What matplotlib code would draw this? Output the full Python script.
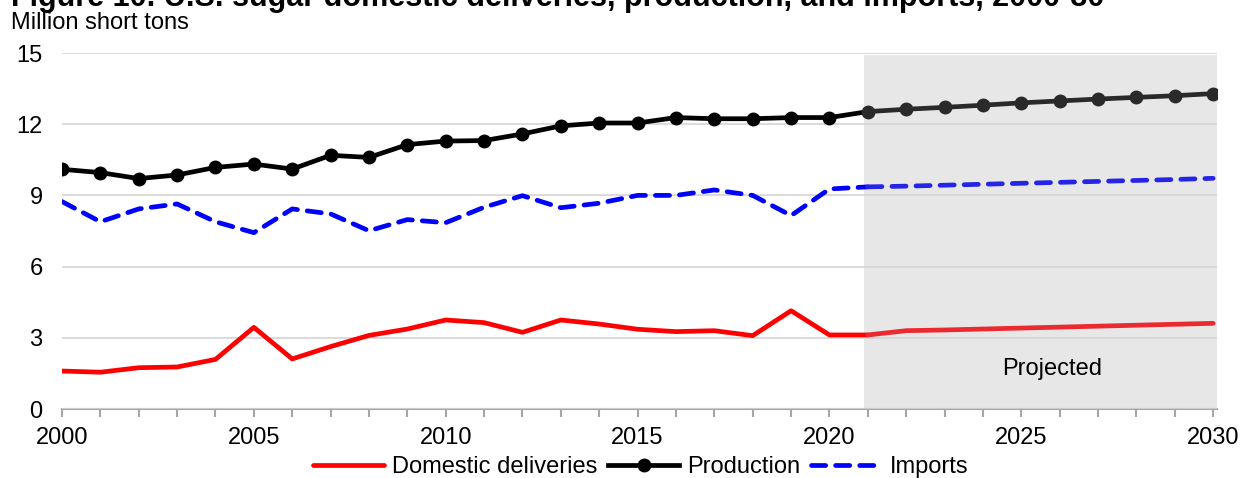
import matplotlib
matplotlib.use("Agg")
import matplotlib.pyplot as plt
from matplotlib.ticker import MultipleLocator

plt.rcParams['font.family'] = ['Liberation Sans', 'DejaVu Sans']

years = list(range(2000, 2031))
production = [10.10, 9.96, 9.71, 9.86, 10.18, 10.32, 10.11, 10.69, 10.60, 11.14,
              11.29, 11.31, 11.59, 11.93, 12.05, 12.05, 12.28, 12.23, 12.23, 12.28,
              12.28, 12.53, 12.63, 12.71, 12.80, 12.90, 12.98, 13.06, 13.13, 13.20, 13.29]
imports = [8.74, 7.89, 8.43, 8.64, 7.89, 7.43, 8.43, 8.22, 7.51, 7.98,
           7.85, 8.50, 8.99, 8.48, 8.67, 9.00, 9.00, 9.23, 9.00, 8.15,
           9.27, 9.36, 9.39, 9.43, 9.47, 9.51, 9.55, 9.59, 9.63, 9.67, 9.72]
deliveries = [1.60, 1.55, 1.74, 1.77, 2.09, 3.44, 2.11, 2.63, 3.10, 3.37,
              3.75, 3.64, 3.23, 3.75, 3.58, 3.36, 3.26, 3.30, 3.09, 4.14,
              3.12, 3.12, 3.30, 3.33, 3.37, 3.41, 3.45, 3.49, 3.53, 3.57, 3.61]
proj_start = 2021

title = "Figure 10. U.S. sugar domestic deliveries, production, and imports, 2000-30"
ylabel = "Million short tons"

fig = plt.figure(figsize=(12.48, 4.78), dpi=100)
ax = fig.add_axes([62/1248, 1-409/478, (1217-62)/1248, (409-53)/478])

k = years.index(proj_start)

ax.axvspan(2020.9, 2030.1, ymin=0, ymax=0.995, color='#e7e7e7', zorder=0, lw=0)

LW = 3.4
MS = 9
# historical
ax.plot(years[:k+1], deliveries[:k+1], color='#ff0000', lw=LW, zorder=3,
        solid_capstyle='round', label='Domestic deliveries')
ax.plot(years[:k], production[:k], color='#000000', lw=LW, marker='o', ms=MS,
        zorder=4, label='Production')
ax.plot(years[:k+1], imports[:k+1], color='#0000ff', lw=LW, dashes=(3.0, 2.1),
        dash_capstyle='round', zorder=3, label='Imports')
# projected
ax.plot(years[k:], deliveries[k:], color='#ea2a2f', lw=LW, zorder=3,
        solid_capstyle='round')
ax.plot(years[k-1:k+1], production[k-1:k+1], color='#000000', lw=LW, zorder=4)
ax.plot(years[k:], production[k:], color='#2a2a2a', lw=LW, marker='o', ms=MS, zorder=4)
ax.plot(years[k:], imports[k:], color='#2525e6', lw=LW, dashes=(3.0, 2.1),
        dash_capstyle='round', zorder=3)

ax.set_xlim(2000, 2030.1)
ax.set_ylim(0, 15)
ax.yaxis.set_major_locator(MultipleLocator(3))
ax.xaxis.set_major_locator(MultipleLocator(5))
ax.xaxis.set_minor_locator(MultipleLocator(1))
ax.grid(axis='y', color='#d4d4d4', lw=1.2, zorder=1)
ax.set_axisbelow(False)
for s in ['top', 'right', 'left']:
    ax.spines[s].set_visible(False)
ax.spines['bottom'].set_color('#a6a6a6')
ax.spines['bottom'].set_linewidth(1.5)
ax.spines['bottom'].set_zorder(2)
ax.tick_params(axis='y', length=0, pad=14, labelsize=17)
ax.tick_params(axis='x', which='both', length=6, width=1.5, color='#a6a6a6',
               labelsize=17, pad=7)

ax.text(2025.8, 1.7, "Projected", ha='center', va='center', fontsize=17)

fig.text(11/1248, 1-6/478, title, fontsize=22, fontweight='bold',
         ha='left', va='baseline')
fig.text(11/1248, 1-23/478, ylabel, fontsize=17, ha='left', va='center')

handles, labels = ax.get_legend_handles_labels()
fig.legend(handles, labels, loc='center', bbox_to_anchor=(641/1248, 1-467/478),
           ncol=3, frameon=False, fontsize=17, handlelength=3.0,
           handletextpad=0.35, columnspacing=0.45, borderpad=0, borderaxespad=0)

fig.savefig("out.png", dpi=100)
